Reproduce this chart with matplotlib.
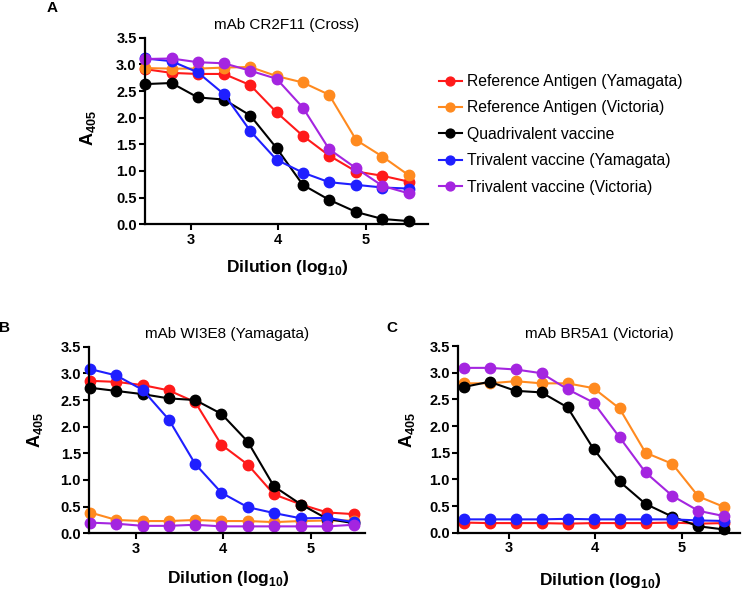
import numpy as np
import matplotlib
matplotlib.use("Agg")
import matplotlib.pyplot as plt

plt.rcParams['font.family'] = ['Liberation Sans', 'DejaVu Sans']
plt.rcParams['mathtext.fontset'] = 'custom'
plt.rcParams['mathtext.rm'] = 'Liberation Sans'
plt.rcParams['mathtext.bf'] = 'Liberation Sans:bold'

# dilution, log10 (300, 600, 1200 ... 307200)
dilution = [2.48, 2.78, 3.08, 3.38, 3.68, 3.98, 4.28, 4.58, 4.89, 5.19, 5.49]

series_names = ["Reference Antigen (Yamagata)", "Reference Antigen (Victoria)",
                "Quadrivalent vaccine", "Trivalent vaccine (Yamagata)",
                "Trivalent vaccine (Victoria)"]
series_colors = ["#ff1a1a", "#ff8a1f", "#000000", "#1f1fff", "#a425e0"]

# panel A: mAb CR2F11 (Cross)
a_ref_yam = [2.91, 2.84, 2.82, 2.82, 2.61, 2.10, 1.66, 1.29, 0.99, 0.91, 0.80]
a_ref_vic = [2.93, 2.92, 2.92, 2.94, 2.95, 2.78, 2.66, 2.43, 1.58, 1.27, 0.92]
a_quad = [2.63, 2.65, 2.38, 2.34, 2.04, 1.43, 0.74, 0.46, 0.23, 0.10, 0.06]
a_tri_yam = [3.11, 3.06, 2.85, 2.44, 1.75, 1.21, 0.97, 0.79, 0.74, 0.69, 0.67]
a_tri_vic = [3.10, 3.11, 3.04, 3.02, 2.88, 2.73, 2.19, 1.41, 1.05, 0.72, 0.58]

# panel B: mAb WI3E8 (Yamagata)
b_ref_yam = [2.86, 2.84, 2.78, 2.68, 2.46, 1.66, 1.29, 0.73, 0.54, 0.39, 0.36]
b_ref_vic = [0.39, 0.25, 0.23, 0.23, 0.25, 0.23, 0.23, 0.21, 0.23, 0.24, 0.24]
b_quad = [2.73, 2.67, 2.61, 2.53, 2.50, 2.24, 1.72, 0.88, 0.54, 0.27, 0.19]
b_tri_yam = [3.08, 2.96, 2.69, 2.13, 1.30, 0.76, 0.49, 0.38, 0.28, 0.29, 0.21]
b_tri_vic = [0.20, 0.18, 0.14, 0.14, 0.16, 0.13, 0.13, 0.13, 0.13, 0.13, 0.16]

# panel C: mAb BR5A1 (Victoria)
c_ref_yam = [0.19, 0.18, 0.18, 0.18, 0.17, 0.18, 0.18, 0.18, 0.19, 0.17, 0.18]
c_ref_vic = [2.80, 2.80, 2.84, 2.80, 2.80, 2.71, 2.33, 1.50, 1.29, 0.68, 0.48]
c_quad = [2.73, 2.83, 2.66, 2.63, 2.35, 1.57, 0.96, 0.54, 0.30, 0.12, 0.06]
c_tri_yam = [0.25, 0.25, 0.25, 0.25, 0.26, 0.25, 0.25, 0.25, 0.25, 0.23, 0.22]
c_tri_vic = [3.09, 3.09, 3.06, 2.99, 2.69, 2.44, 1.79, 1.13, 0.69, 0.41, 0.31]

W, H = 745, 590
fig = plt.figure(figsize=(W / 100, H / 100), dpi=100)


def px_axes(left, right, bottom, top):
    return fig.add_axes([left / W, 1 - bottom / H, (right - left) / W, (bottom - top) / H])


def draw_panel(ax, data, title, xlim):
    lines = []
    for vals, col in zip(data, series_colors):
        ln, = ax.plot(dilution, vals, '-o', color=col, lw=1.5, ms=7.5, clip_on=False)
        lines.append(ln)
    ax.set_xlim(*xlim)
    ax.set_ylim(0, 3.5)
    ax.set_xticks([3, 4, 5])
    ax.set_yticks(np.arange(0, 3.51, 0.5))
    ax.set_yticklabels(["%.1f" % v for v in np.arange(0, 3.51, 0.5)])
    for s in ['top', 'right']:
        ax.spines[s].set_visible(False)
    for s in ['left', 'bottom']:
        ax.spines[s].set_linewidth(1.6)
    ax.tick_params(width=1.5, length=4, labelsize=10.5, pad=2)
    for lab in ax.get_xticklabels() + ax.get_yticklabels():
        lab.set_fontweight('bold')
    ax.set_title(title, fontsize=11, pad=6)
    return lines


axA = px_axes(145, 428, 224.3, 37.7)
hA = draw_panel(axA, [a_ref_yam, a_ref_vic, a_quad, a_tri_yam, a_tri_vic],
                "mAb CR2F11 (Cross)", (2.477, 5.71))
axB = px_axes(89.3, 365, 533.3, 346.7)
draw_panel(axB, [b_ref_yam, b_ref_vic, b_quad, b_tri_yam, b_tri_vic],
           "mAb WI3E8 (Yamagata)", (2.47, 5.62))
axC = px_axes(458.3, 740, 532.7, 346)
draw_panel(axC, [c_ref_yam, c_ref_vic, c_quad, c_tri_yam, c_tri_vic],
           "mAb BR5A1 (Victoria)", (2.42, 5.67))


def ftext(x, y, s, **kw):
    fig.text(x / W, 1 - y / H, s, ha='center', va='center', **kw)


ylab = r"A$_{\mathbf{405}}$"
xlab = r"Dilution (log$_{\mathbf{10}}$)"
ftext(52, 8, "A", fontsize=11, fontweight='bold')
ftext(5, 328, "B", fontsize=11, fontweight='bold')
ftext(392, 328, "C", fontsize=11, fontweight='bold')
ftext(88, 128, ylab, fontsize=13, fontweight='bold', rotation=90)
ftext(35, 430, ylab, fontsize=13, fontweight='bold', rotation=90)
ftext(407, 430, ylab, fontsize=13, fontweight='bold', rotation=90)
ftext(287, 268, xlab, fontsize=12.5, fontweight='bold')
ftext(228, 579, xlab, fontsize=12.5, fontweight='bold')
ftext(600, 580, xlab, fontsize=12.5, fontweight='bold')

fig.legend(hA, series_names, loc='upper left', bbox_to_anchor=(439 / W, 1 - 74 / H),
           frameon=False, fontsize=11.3, handlelength=1.45, handletextpad=0.35,
           labelspacing=0.73, borderpad=0, borderaxespad=0, markerscale=0.85)

fig.savefig("out.png", dpi=100)
